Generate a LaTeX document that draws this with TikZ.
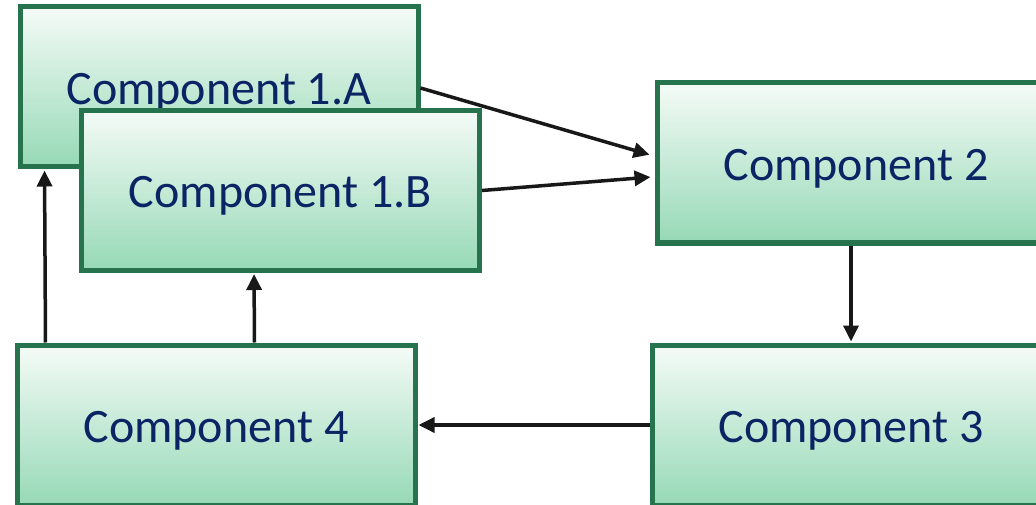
\documentclass[tikz,border=0pt]{standalone}
\usepackage{fontspec}
\setmainfont{Carlito}
\usetikzlibrary{arrows.meta}
\definecolor{boxedge}{RGB}{38,115,78}
\definecolor{boxtop}{RGB}{245,251,247}
\definecolor{boxbottom}{RGB}{150,217,182}
\definecolor{labelblue}{RGB}{10,36,100}
\definecolor{arrowink}{RGB}{24,24,24}
\tikzset{
  compbox/.style={draw=boxedge, line width=5pt, rectangle,
    top color=boxtop, bottom color=boxbottom,
    minimum width=398pt, minimum height=160pt, inner sep=0pt,
    text height=35pt, text depth=0pt,
    text=labelblue, font=\fontsize{48}{54}\selectfont},
  link/.style={draw=arrowink, line width=3.5pt,
    -{Triangle[length=16pt,width=15pt]}, shorten >=1pt}
}
\begin{document}
\begin{tikzpicture}[x=1pt,y=-1pt]
  \useasboundingbox (0,0) rectangle (1036,505);
  % component boxes
  \node[compbox] (c1a) at (219,87) {Component 1.A};
  \node[compbox] (c1b) at (280.5,190.5) {Component 1.B};
  \node[compbox] (c2) at (856,163) {Component 2};
  \node[compbox] (c3) at (851,425) {Component 3};
  \node[compbox] (c4) at (216,425) {Component 4};
  % connectors
  \draw[link] ([yshift=-1pt]c1a.east) -- ([xshift=-4pt,yshift=8pt]c2.west);
  \draw[link] (c1b.east) -- ([xshift=-3pt,yshift=-14pt]c2.west);
  \draw[link] ([xshift=-5pt]c2.south) -- (c3.north);
  \draw[link] (c3.west) -- (c4.east);
  \draw[link] ([xshift=31pt]c4.north west) -- ([xshift=27pt]c1a.south west);
  \draw[link] ([xshift=240pt]c4.north west) -- ([xshift=175pt]c1b.south west);
\end{tikzpicture}
\end{document}
